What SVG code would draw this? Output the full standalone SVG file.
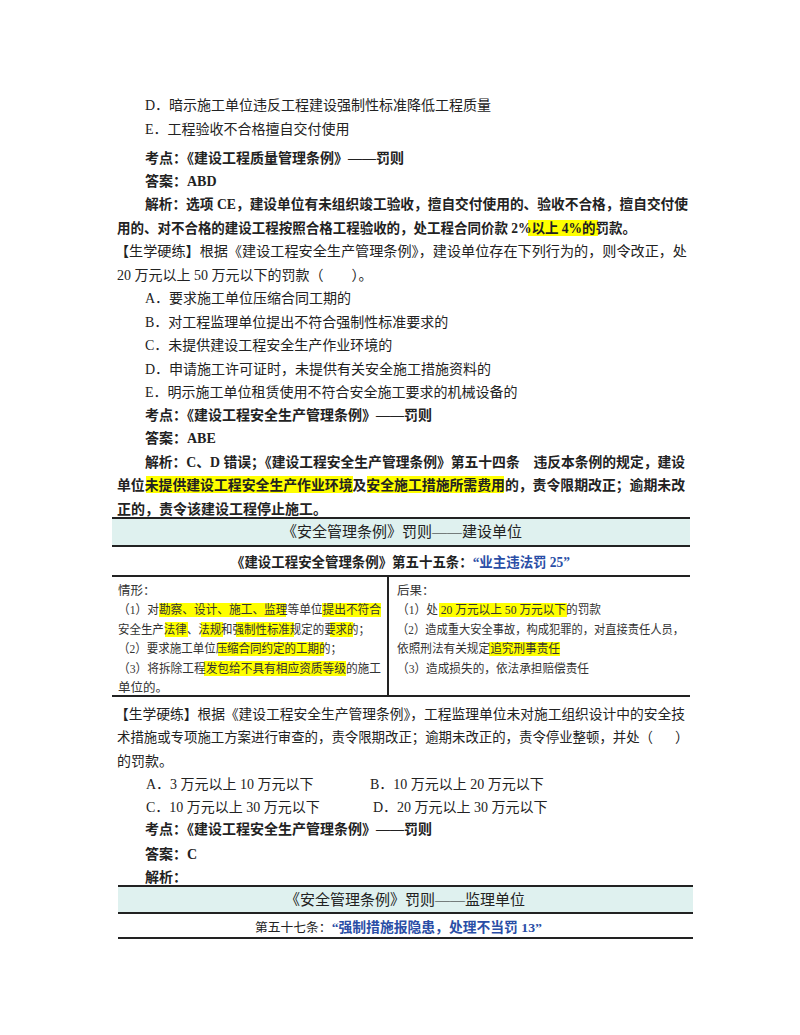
<svg xmlns="http://www.w3.org/2000/svg" width="800" height="1035" viewBox="0 0 800 1035">
<style>
text{font-family:"Liberation Serif","Noto Sans CJK SC",serif;font-size:14px;fill:#222}
.b{font-weight:bold}
.t{font-size:12.5px;fill:#333}
.h{fill:#ffff00}
.blue{fill:#2a4ea6;font-weight:bold}
.band{fill:#dff1ef}
.ln{stroke:#222;stroke-width:2}
</style>
<rect width="800" height="1035" fill="#fff"/>
<g id="highlights">
<rect class="h" x="528" y="220" width="70" height="16"/>
<rect class="h" x="146" y="476" width="207" height="17"/>
<rect class="h" x="367" y="476" width="137" height="17"/>
<rect class="h" x="159" y="603" width="127" height="14"/>
<rect class="h" x="322" y="603" width="59" height="14"/>
<rect class="h" x="165" y="622" width="23" height="15"/>
<rect class="h" x="201" y="622" width="22" height="15"/>
<rect class="h" x="236" y="622" width="58" height="15"/>
<rect class="h" x="330" y="622" width="23" height="15"/>
<rect class="h" x="218" y="642" width="106" height="14"/>
<rect class="h" x="204" y="661" width="142" height="15"/>
<rect class="h" x="439" y="603" width="128" height="14"/>
<rect class="h" x="489" y="642" width="71" height="14"/>
</g>
<g id="text1">
<text x="145" y="110">D．暗示施工单位违反工程建设强制性标准降低工程质量</text>
<text x="145" y="134">E．工程验收不合格擅自交付使用</text>
<text x="145" y="163" class="b">考点：《建设工程质量管理条例》——罚则</text>
<text x="145" y="186" class="b">答案：ABD</text>
<text x="145" y="209" class="b" textLength="543" lengthAdjust="spacingAndGlyphs">解析：选项 CE，建设单位有未组织竣工验收，擅自交付使用的、验收不合格，擅自交付使</text>
<text x="117" y="233" class="b" textLength="519" lengthAdjust="spacingAndGlyphs">用的、对不合格的建设工程按照合格工程验收的，处工程合同价款 2%以上 4%的罚款。</text>
<text x="115" y="256" textLength="572" lengthAdjust="spacingAndGlyphs">【生学硬练】根据《建设工程安全生产管理条例》，建设单位存在下列行为的，则令改正，处</text>
<text x="117" y="280">20 万元以上 50 万元以下的罚款（　　）。</text>
<text x="145" y="303">A．要求施工单位压缩合同工期的</text>
<text x="145" y="327">B．对工程监理单位提出不符合强制性标准要求的</text>
<text x="145" y="350">C．未提供建设工程安全生产作业环境的</text>
<text x="145" y="374">D．申请施工许可证时，未提供有关安全施工措施资料的</text>
<text x="145" y="397">E．明示施工单位租赁使用不符合安全施工要求的机械设备的</text>
<text x="145" y="420" class="b">考点：《建设工程安全生产管理条例》——罚则</text>
<text x="145" y="443" class="b">答案：ABE</text>
<text x="145" y="467" class="b" textLength="540" lengthAdjust="spacingAndGlyphs">解析：C、D 错误；《建设工程安全生产管理条例》第五十四条　违反本条例的规定，建设</text>
<text x="117" y="490" class="b" textLength="568" lengthAdjust="spacingAndGlyphs">单位未提供建设工程安全生产作业环境及安全施工措施所需费用的，责令限期改正；逾期未改</text>
<text x="117" y="514" class="b">正的，责令该建设工程停止施工。</text>
</g>
<g id="table1">
<rect class="band" x="112" y="519" width="578" height="27"/>
<line class="ln" x1="112" y1="518" x2="690" y2="518"/>
<line class="ln" x1="112" y1="546" x2="690" y2="546"/>
<text x="402" y="537" text-anchor="middle" style="font-size:15px">《安全管理条例》罚则——建设单位</text>
<text x="231" y="567" class="b" textLength="339" lengthAdjust="spacingAndGlyphs">《建设工程安全管理条例》第五十五条：<tspan class="blue">“业主违法罚 25”</tspan></text>
<line class="ln" x1="112" y1="576" x2="690" y2="576"/>
<line class="ln" x1="388" y1="576" x2="388" y2="696"/>
<line class="ln" x1="112" y1="696" x2="690" y2="696"/>
<text class="t" x="118" y="595">情形：</text>
<text class="t" x="118" y="614" textLength="263" lengthAdjust="spacingAndGlyphs">（1）对勘察、设计、施工、监理等单位提出不符合</text>
<text class="t" x="118" y="634" textLength="252" lengthAdjust="spacingAndGlyphs">安全生产法律、法规和强制性标准规定的要求的；</text>
<text class="t" x="118" y="653" textLength="224" lengthAdjust="spacingAndGlyphs">（2）要求施工单位压缩合同约定的工期的；</text>
<text class="t" x="118" y="673" textLength="263" lengthAdjust="spacingAndGlyphs">（3）将拆除工程发包给不具有相应资质等级的施工</text>
<text class="t" x="118" y="692">单位的。</text>
<text class="t" x="397" y="595">后果：</text>
<text class="t" x="397" y="614" textLength="204" lengthAdjust="spacingAndGlyphs">（1）处 20 万元以上 50 万元以下的罚款</text>
<text class="t" x="397" y="634" textLength="287" lengthAdjust="spacingAndGlyphs">（2）造成重大安全事故，构成犯罪的，对直接责任人员，</text>
<text class="t" x="397" y="653" textLength="163" lengthAdjust="spacingAndGlyphs">依照刑法有关规定追究刑事责任</text>
<text class="t" x="397" y="673" textLength="192" lengthAdjust="spacingAndGlyphs">（3）造成损失的，依法承担赔偿责任</text>
</g>
<g id="text2">
<text x="115" y="719" textLength="570" lengthAdjust="spacingAndGlyphs">【生学硬练】根据《建设工程安全生产管理条例》，工程监理单位未对施工组织设计中的安全技</text>
<text x="117" y="742" textLength="536" lengthAdjust="spacingAndGlyphs">术措施或专项施工方案进行审查的，责令限期改正；逾期未改正的，责令停业整顿，并处（</text>
<text x="675" y="742">）</text>
<text x="117" y="766">的罚款。</text>
<text x="146" y="789">A．3 万元以上 10 万元以下</text>
<text x="370" y="789">B．10 万元以上 20 万元以下</text>
<text x="146" y="812">C．10 万元以上 30 万元以下</text>
<text x="373" y="812">D．20 万元以上 30 万元以下</text>
<text x="145" y="834" class="b">考点：《建设工程安全生产管理条例》——罚则</text>
<text x="145" y="859" class="b">答案：C</text>
<text x="145" y="882" class="b">解析：</text>
</g>
<g id="table2">
<rect class="band" x="118" y="887" width="575" height="25"/>
<line class="ln" x1="118" y1="886" x2="693" y2="886"/>
<line class="ln" x1="118" y1="913" x2="693" y2="913"/>
<text x="405" y="905" text-anchor="middle" style="font-size:15px">《安全管理条例》罚则——监理单位</text>
<text x="255" y="932" style="font-size:12.5px" textLength="287" lengthAdjust="spacingAndGlyphs">第五十七条：<tspan class="blue" style="font-size:13.5px">“强制措施报隐患，处理不当罚 13”</tspan></text>
<line class="ln" x1="118" y1="938" x2="693" y2="938"/>
</g>
</svg>
